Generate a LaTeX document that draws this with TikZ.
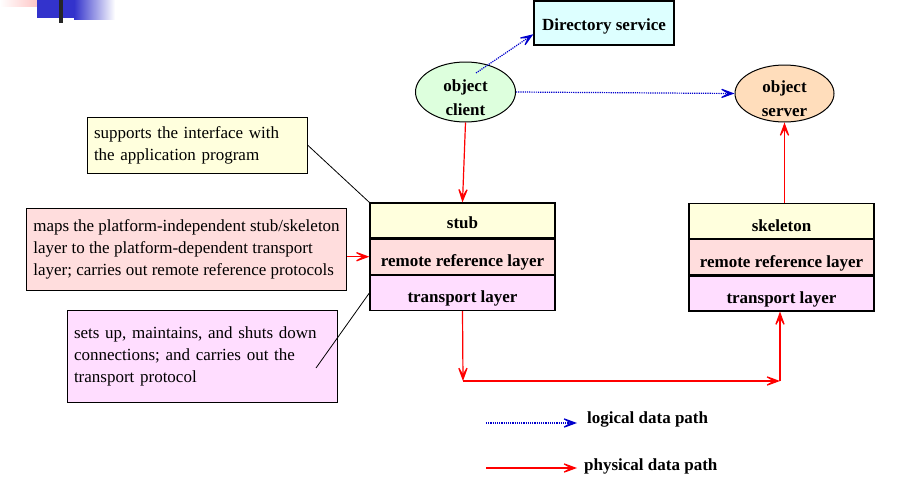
\documentclass[tikz,border=0pt]{standalone}
\usepackage{fontspec}
\setmainfont{Liberation Serif}
\usetikzlibrary{shapes.geometric, arrows.meta, positioning}
\definecolor{dircyan}{RGB}{221,255,255}
\definecolor{clientgreen}{RGB}{221,255,221}
\definecolor{serverpeach}{RGB}{255,221,187}
\definecolor{stubyellow}{RGB}{255,255,221}
\definecolor{refpink}{RGB}{255,221,221}
\definecolor{transviolet}{RGB}{255,221,255}
\definecolor{pathblue}{RGB}{0,0,204}
\definecolor{slideblue}{RGB}{51,51,204}
\definecolor{slidepink}{RGB}{255,175,175}
\newcommand{\objlabel}[2]{\raisebox{-11pt}[0pt][0pt]{\begin{tabular}{@{}c@{}}#1\\#2\end{tabular}}}
\tikzstyle{obj} = [ellipse, draw, line width=1pt, minimum width=100pt,
    minimum height=60pt, inner sep=0pt,
    font=\fontsize{17}{24}\selectfont\bfseries]
\tikzstyle{layer} = [rectangle, draw, line width=1.2pt, minimum width=185pt,
    minimum height=35pt, inner sep=0pt, text height=22pt, text depth=2pt,
    font=\fontsize{17}{20}\selectfont\bfseries]
\tikzstyle{note} = [rectangle, draw, line width=1pt, inner xsep=7pt,
    inner ysep=0pt, align=left, font=\fontsize{17}{22}\selectfont]
\tikzstyle{legend} = [inner sep=0pt, font=\fontsize{17}{20}\selectfont\bfseries]
\tikzstyle{pathtip} = [-{Stealth[length=19pt, width=14pt, inset=12pt]}]
\tikzstyle{logic} = [draw, pathblue, line width=1.2pt, densely dotted, pathtip]
\tikzstyle{phys} = [draw, red, line width=1.2pt, pathtip]
\tikzstyle{pointer} = [draw, line width=0.8pt]

\begin{document}
\begin{tikzpicture}[x=1pt, y=-1pt]
  \useasboundingbox (0,0) rectangle (913,477);
  % slide corner
  \shade[left color=white, right color=slidepink] (0,0) rectangle (53,6);
  \fill[slideblue] (37,0) rectangle (74,18);
  \shade[left color=slideblue, right color=white] (74,0) rectangle (115,19);
  \fill[black!85] (59,0) rectangle (63,23);

  % Place nodes
  % Objects
  \node[rectangle, draw, line width=1.2pt, fill=dircyan, minimum width=140pt,
    minimum height=44pt, text height=16pt, text depth=2pt,
    font=\fontsize{17}{20}\selectfont\bfseries] (dir) at (604,23) {Directory service};
  \node[obj, fill=clientgreen] (client) at (465.5,92) {\objlabel{object}{client}};
  \node[obj, fill=serverpeach, minimum width=99pt, minimum height=57pt] (server) at (784.5,93.5) {\objlabel{object}{server}};
  % Client side
  \node[layer, fill=stubyellow, text height=17pt] (stub) at (462.5,220.5) {stub};
  \node[layer, fill=refpink, below=0pt of stub] (stubref) {remote reference layer};
  \node[layer, fill=transviolet, below=0pt of stubref] (stubtrans) {transport layer};
  % Server side
  \node[layer, fill=stubyellow] (skel) at (781.5,221) {skeleton};
  \node[layer, fill=refpink, below=0pt of skel] (skelref) {remote reference layer};
  \node[layer, fill=transviolet, below=0pt of skelref] (skeltrans) {transport layer};
  % Notes
  \node[note, fill=stubyellow, text width=206pt, minimum height=56pt] (note1) at (197,145)
    {supports the interface with\\the application program};
  \node[note, fill=refpink, minimum width=319pt, minimum height=82pt] (note2) at (186.5,249)
    {maps the platform-independent stub/skeleton\\layer to the platform-dependent transport\\layer; carries out remote reference protocols};
  \node[note, fill=transviolet, text width=256pt, minimum height=92pt] (note3) at (202,356)
    {sets up, maintains, and shuts down\\connections; and carries out the\\transport protocol};
  % Legend
  \node[legend, anchor=west] (lglogic) at (587,419) {logical data path};
  \node[legend, anchor=west] (lgphys) at (584,466) {physical data path};

  % Draw edges
  \coordinate (cltop) at (476,73);
  \path [logic] (cltop) -- (dir.189);
  \path [logic] (client.east) -- (server.west);
  \path [phys] (client.south) -- (stub.north);
  \path [phys] (skel.north -| server.south) -- (server.south);

  \coordinate (bendL) at (463,381);
  \coordinate (bendR) at (780,381);
  \path [phys] (stubtrans.south) -- (bendL);
  \path [phys] (bendL) -- (bendR);
  \path [phys] (bendR) -- (bendR |- skeltrans.south);

  \path [pointer] (note1.east) -- (stub.north west);
  \path [phys] (stubref.west -| note2.east) -- (stubref.west);
  \coordinate (n3end) at (316,368);
  \path [pointer] (n3end) -- (stubtrans.west);

  \coordinate (lgA) at (486,423);
  \coordinate (lgB) at (577,423);
  \coordinate (lgC) at (486,468);
  \coordinate (lgD) at (577,468);
  \path [logic] (lgA) -- (lgB);
  \path [phys] (lgC) -- (lgD);
\end{tikzpicture}
\end{document}
